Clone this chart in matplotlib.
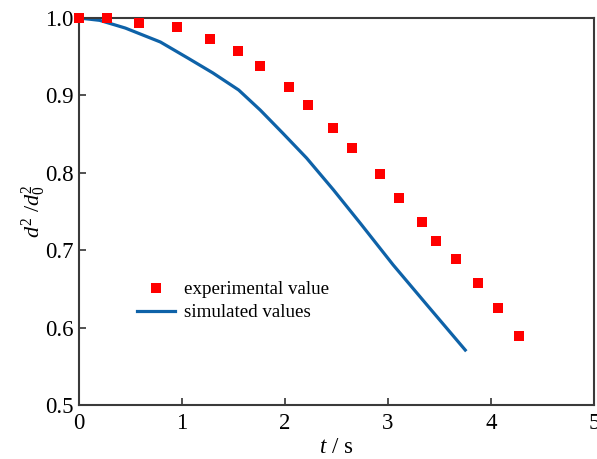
import matplotlib
matplotlib.use("Agg")
import matplotlib.pyplot as plt

plt.rcParams['font.family'] = ['Liberation Serif', 'DejaVu Serif']
plt.rcParams['mathtext.fontset'] = 'custom'
plt.rcParams['mathtext.rm'] = 'Liberation Serif'
plt.rcParams['mathtext.it'] = 'Liberation Serif:italic'

# experimental values
exp_t = [0.0, 0.27, 0.58, 0.95, 1.27, 1.54, 1.76, 2.04, 2.22, 2.47, 2.65,
         2.92, 3.11, 3.33, 3.47, 3.66, 3.87, 4.07, 4.27]
exp_v = [1.0, 1.0, 0.993, 0.988, 0.973, 0.958, 0.938, 0.911, 0.888, 0.858, 0.832,
         0.798, 0.767, 0.736, 0.712, 0.689, 0.658, 0.625, 0.589]

# simulated values
sim_t = [0.0, 0.20, 0.45, 0.79, 1.06, 1.30, 1.55, 1.76, 1.98, 2.21, 2.47,
         2.73, 3.05, 3.38, 3.75]
sim_v = [1.0, 0.997, 0.987, 0.969, 0.948, 0.929, 0.907, 0.881, 0.851, 0.819, 0.778,
         0.735, 0.681, 0.629, 0.571]

xticks = [0, 1, 2, 3, 4, 5]
yticks = [0.5, 0.6, 0.7, 0.8, 0.9, 1.0]

fig = plt.figure(figsize=(5.97, 4.59), dpi=100)
ax = fig.add_axes([79/597, 54/459, 515/597, 387/459])

ax.plot(exp_t, exp_v, 's', color='#ff0000', markersize=6.5, markeredgewidth=0,
        label='experimental value', clip_on=False, zorder=3)
ax.plot(sim_t, sim_v, '-', color='#0e62a8', linewidth=2.3, label='simulated values')

ax.set_xlim(0, 5)
ax.set_ylim(0.5, 1.0)
ax.set_xticks(xticks)
ax.set_xticklabels([str(x) for x in xticks])
ax.set_yticks(yticks)
ax.set_yticklabels([f'{y:.1f}' for y in yticks])

ax.tick_params(direction='in', length=5, width=1.2, labelsize=16.5, colors='#333333',
               labelcolor='black', top=False, right=False)
ax.tick_params(axis='x', pad=6)
ax.tick_params(axis='y', pad=4)
for s in ax.spines.values():
    s.set_linewidth(1.5)
    s.set_color('#3a3a3a')

ax.set_xlabel(r'$t$ / s', fontsize=16.5, labelpad=2)
ax.set_ylabel(r'$d^2\ /d_0^2$', fontsize=16, labelpad=-2)

ax.legend(loc='upper left', bbox_to_anchor=(0.097, 0.34), frameon=False, fontsize=13.7,
          handlelength=2.0, handletextpad=0.5, labelspacing=0.3, borderaxespad=0)

fig.savefig('out.png', dpi=100)
